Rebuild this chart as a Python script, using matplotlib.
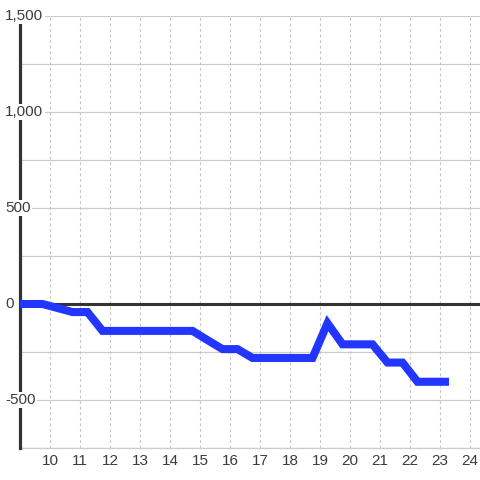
import matplotlib
matplotlib.use("Agg")
import matplotlib.pyplot as plt
from matplotlib.ticker import MultipleLocator

# Data (hour of day, cumulative value)
hours = [9.0, 9.25, 9.75, 10.25, 10.75, 11.25, 11.75, 12.25, 12.75, 13.25, 13.75,
         14.25, 14.75, 15.25, 15.75, 16.25, 16.75, 17.25, 17.75, 18.25, 18.75,
         19.25, 19.75, 20.25, 20.75, 21.25, 21.75, 22.25, 22.75, 23.3]
values = [0, 0, 0, -21, -42, -42, -140, -140, -140, -140, -140,
          -140, -140, -188, -235, -235, -281, -281, -281, -281, -281,
          -100, -210, -210, -210, -305, -305, -405, -405, -405]
x_ticks = list(range(10, 25))
y_labels = [1500, 1000, 500, 0, -500]

plt.rcParams['font.family'] = ['Liberation Sans', 'DejaVu Sans']

fig = plt.figure(figsize=(4.8, 4.8), dpi=100)
fig.patch.set_facecolor('white')
ax = fig.add_axes([20/480, 32/480, 460/480, 432/480])
ax.set_xlim(9, 9 + 460/30)
ax.set_ylim(-750, 1500)

# grids
ax.yaxis.set_major_locator(MultipleLocator(250))
ax.set_yticklabels([])
ax.tick_params(axis='y', length=0)
for y in range(-750, 1501, 250):
    ax.axhline(y, color='#cccccc', lw=0.9, zorder=1)
for xv in x_ticks:
    ax.axvline(xv, color='#c4c4c4', lw=0.8, ls=(0, (2.5, 2.5)), zorder=1)

ax.set_xticks(x_ticks)
ax.set_xticklabels([str(v) for v in x_ticks], fontsize=11, color='#3c3c3c')
ax.tick_params(axis='x', length=0, pad=4.5)

for s in ['top', 'right']:
    ax.spines[s].set_visible(False)
ax.spines['bottom'].set_color('#cccccc')
ax.spines['bottom'].set_linewidth(0.9)
ax.spines['left'].set_color('#333333')
ax.spines['left'].set_linewidth(2.3)
ax.spines['left'].set_bounds(-750, 1460)
ax.spines['left'].set_zorder(3)

# zero line
ax.axhline(0, color='#333333', lw=2.2, zorder=3)

# series
ax.plot(hours, values, color='#2236ff', lw=5.8, solid_joinstyle='miter',
        solid_capstyle='butt', zorder=8, clip_on=True)

# y labels over spine with white background
for yv in y_labels:
    ax.text(-15/460, yv, f"{yv:,}", transform=ax.get_yaxis_transform(), ha='left', va='center',
            fontsize=11, color='#3c3c3c', zorder=6, clip_on=False,
            bbox=dict(facecolor='white', edgecolor='none', pad=1.0))

fig.savefig('out.png', dpi=100, facecolor='white')
